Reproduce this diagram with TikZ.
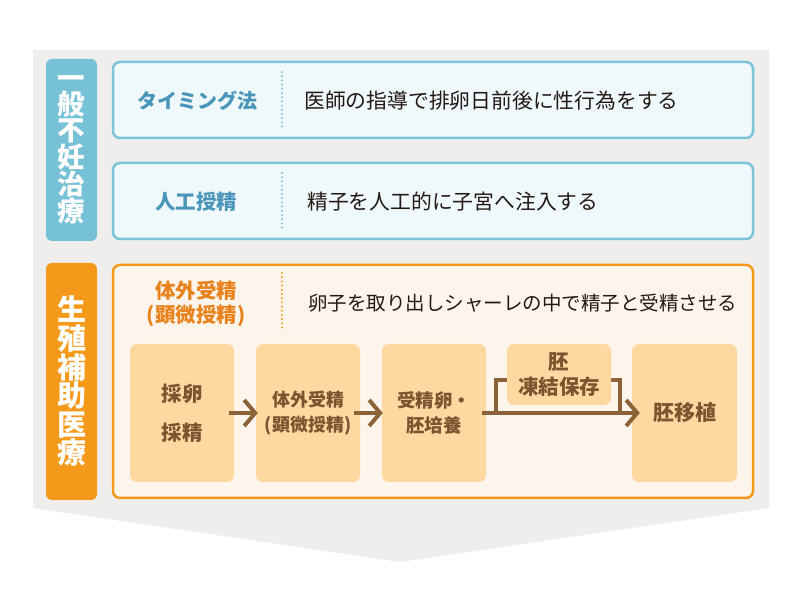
\documentclass[tikz,border=0pt]{standalone}
\usepackage{fontspec}
\setmainfont{Noto Sans CJK JP}
\usetikzlibrary{arrows.meta,calc}
\definecolor{bggrey}{HTML}{EFEEED}
\definecolor{blueM}{HTML}{76C1D6}
\definecolor{blueB}{HTML}{7CC4D8}
\definecolor{blueF}{HTML}{EFF8FA}
\definecolor{blueT}{HTML}{4A95BA}
\definecolor{orgM}{HTML}{F5991B}
\definecolor{orgF}{HTML}{FDF5EC}
\definecolor{orgT}{HTML}{E8821C}
\definecolor{peach}{HTML}{FDD8A0}
\definecolor{brownT}{HTML}{7A5530}
\definecolor{brownA}{HTML}{8C6239}
\definecolor{txt}{HTML}{231815}
\tikzset{
  sidebox/.style={rounded corners=6pt, minimum width=51pt, inner sep=0pt, text=white, align=center},
  rowbox/.style={draw=blueB, fill=blueF, line width=2.5pt, rounded corners=7pt, minimum width=640pt, minimum height=76pt, inner sep=0pt},
  stepbox/.style={fill=peach, rounded corners=7pt, minimum width=104pt, inner sep=0pt, text=brownT, align=center},
  lbl/.style={inner sep=0pt, align=center},
  desc/.style={inner sep=0pt, anchor=west, text=txt, font=\fontsize{20.8}{24}\selectfont},
  dots/.style={line width=2.2pt, line cap=round, dash pattern=on 0pt off 4.2pt},
  flow/.style={draw=brownA, line width=4pt, -{Straight Barb[length=11pt,width=26pt,line width=4pt]}},
}
\begin{document}
\begin{tikzpicture}[x=1pt,y=-1pt]
\useasboundingbox (0,0) rectangle (801,601);
% grey background
\fill[bggrey] (33,50) -- (769,50) -- (769,508) -- (400,562) -- (33,508) -- cycle;

% side labels
\node[sidebox, fill=blueM, minimum height=182pt, font=\bfseries\fontsize{27.5}{25.8}\selectfont] (gen) at (71.5,150) {一\\般\\不\\妊\\治\\療};
\node[sidebox, fill=orgM, minimum height=237pt, font=\bfseries\fontsize{29}{28.6}\selectfont] (art) at (71.5,381.5) {生\\殖\\補\\助\\医\\療};

% general rows
\node[rowbox] (row1) at (433,100) {};
\node[rowbox] (row2) at (433,201) {};
\node[lbl, text=blueT, font=\bfseries\fontsize{20}{24}\selectfont] (l1) at (197,101) {タイミング法};
\node[lbl, text=blueT, font=\bfseries\fontsize{20.5}{24}\selectfont] (l2) at (196,202) {人工授精};
\node[desc] (d1) at (304,101) {医師の指導で排卵日前後に性行為をする};
\node[desc] (d2) at (307,202) {精子を人工的に子宮へ注入する};
\coordinate (s1a) at (282,72); \coordinate (s1b) at (282,128);
\coordinate (s2a) at (282,173); \coordinate (s2b) at (282,229);
\draw[dots, blueB] (s1a) -- (s1b);
\draw[dots, blueB] (s2a) -- (s2b);

% ART box
\node[draw=orgM, fill=orgF, line width=2.5pt, rounded corners=7pt, minimum width=640pt, minimum height=233pt, inner sep=0pt] (artbox) at (433,381.5) {};
\node[lbl, text=orgT, font=\bfseries\fontsize{20.5}{24.5}\selectfont] (l3) at (196,304) {体外受精\\(顕微授精)};
\node[desc, font=\fontsize{19.5}{24}\selectfont] (d3) at (308,303) {卵子を取り出しシャーレの中で精子と受精させる};
\coordinate (s3a) at (282,273); \coordinate (s3b) at (282,328);
\draw[dots, orgM] (s3a) -- (s3b);

% steps
\node[stepbox, minimum height=138pt, font=\bfseries\fontsize{20.5}{39}\selectfont] (b1) at (182,413) {採卵\\採精};
\node[stepbox, minimum height=138pt, font=\bfseries\fontsize{18}{25}\selectfont] (b2) at (308,413) {体外受精\\(顕微授精)};
\node[stepbox, minimum height=138pt, font=\bfseries\fontsize{18.5}{25}\selectfont] (b3) at (434,413) {受精卵・\\胚培養};
\node[stepbox, minimum height=138pt, minimum width=105pt, font=\bfseries\fontsize{21}{24}\selectfont] (b5) at (684.5,413) {胚移植};

% bracket (behind freeze box)
\coordinate (bl) at ([xshift=10pt]b3.east);
\coordinate (br) at (620,413);
\draw[brownA, line width=4pt] (bl) -- (bl |- 0,380) -- (br |- 0,380) -- (br);
\node[stepbox, minimum height=61pt, font=\bfseries\fontsize{20.5}{25}\selectfont] (b4) at (559,374.5) {胚\\凍結保存};

% arrows
\draw[flow] ([xshift=-5pt]b1.east) -- ([xshift=2pt]b2.west);
\draw[flow] ([xshift=-6pt]b2.east) -- ([xshift=1pt]b3.west);
\draw[flow] ([xshift=-4pt]b3.east) -- ([xshift=8pt]b5.west);
\end{tikzpicture}
\end{document}
